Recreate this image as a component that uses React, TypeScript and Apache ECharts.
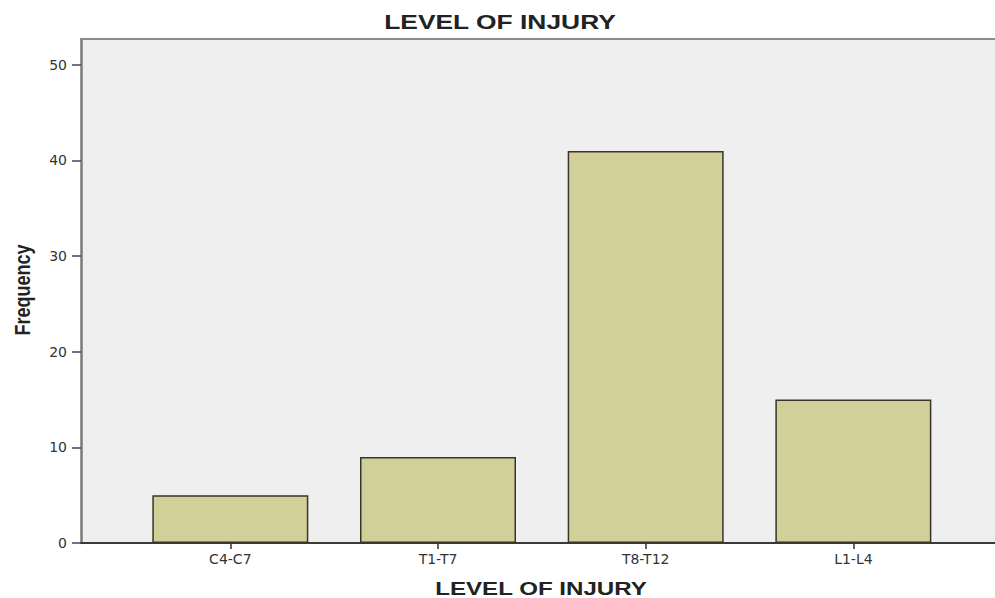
import React, { useEffect, useRef } from 'react';
import * as echarts from 'echarts';

const categories: string[] = ['C4-C7', 'T1-T7', 'T8-T12', 'L1-L4'];
const frequencies: number[] = [5, 9, 41, 15];
const yTicks: number[] = [0, 10, 20, 30, 40, 50];
const chartTitle = 'LEVEL OF INJURY';
const xTitle = 'LEVEL OF INJURY';
const yTitle = 'Frequency';

export default function App() {
  const ref = useRef<HTMLDivElement>(null);

  useEffect(() => {
    if (!ref.current) return;
    const chart = echarts.init(ref.current, null, { renderer: 'svg' });
    const catIdx = categories.map((_, i) => i);
    const xMin = -0.719;
    const xMax = 3.682;
    const option: any = {
      animation: false,
      backgroundColor: '#ffffff',
      grid: {
        left: 81,
        right: 0,
        top: 39,
        bottom: 55,
        show: true,
        backgroundColor: '#efefef',
        borderWidth: 0,
        containLabel: false,
      },
      xAxis: [
        {
          type: 'value',
          min: xMin,
          max: xMax,
          splitLine: { show: false },
          axisLine: { show: true, onZero: false, lineStyle: { color: '#3a3a3a', width: 2 } },
          axisTick: { show: true, customValues: catIdx, length: 6, lineStyle: { color: '#333', width: 1.5 } },
          axisLabel: {
            customValues: catIdx,
            formatter: (v: number) => categories[Math.round(v)] ?? '',
            margin: 9,
            fontFamily: 'DejaVu Sans',
            fontSize: 14,
            color: '#333',
          },
        },
        {
          type: 'value',
          position: 'top',
          min: xMin,
          max: xMax,
          splitLine: { show: false },
          axisLine: { show: true, onZero: false, lineStyle: { color: '#8c8c8c', width: 2 } },
          axisTick: { show: false },
          axisLabel: { show: false },
        },
      ],
      yAxis: {
        type: 'value',
        min: 0,
        max: 52.7,
        splitLine: { show: false },
        axisLine: { show: true, onZero: false, lineStyle: { color: '#7a7a7a', width: 2.5 } },
        axisTick: { show: true, customValues: yTicks, length: 9, lineStyle: { color: '#444', width: 1.5 } },
        axisLabel: {
          customValues: yTicks,
          margin: 14,
          fontFamily: 'DejaVu Sans',
          fontSize: 14,
          color: '#333',
        },
      },
      series: [
        {
          type: 'bar',
          xAxisIndex: 0,
          data: frequencies.map((v, i) => [i, v]),
          barWidth: 156,
          itemStyle: { color: '#d3cf98', borderColor: '#36362a', borderWidth: 1.5 },
        },
      ],
      graphic: [
        {
          type: 'text',
          x: 500,
          y: 22,
          scaleX: 1.32,
          style: {
            text: chartTitle,
            font: 'bold 20px "Liberation Sans", Arial, sans-serif',
            fill: '#222',
            align: 'center',
            verticalAlign: 'middle',
            textAlign: 'center',
            textVerticalAlign: 'middle',
          },
        },
        {
          type: 'text',
          x: 541,
          y: 589,
          scaleX: 1.34,
          style: {
            text: xTitle,
            font: 'bold 18px "Liberation Sans", Arial, sans-serif',
            fill: '#222',
            align: 'center',
            verticalAlign: 'middle',
            textAlign: 'center',
            textVerticalAlign: 'middle',
          },
        },
        {
          type: 'text',
          x: 22,
          y: 290,
          rotation: Math.PI / 2,
          scaleY: 1.25,
          style: {
            text: yTitle,
            font: 'bold 18px "Liberation Sans", Arial, sans-serif',
            fill: '#222',
            align: 'center',
            verticalAlign: 'middle',
            textAlign: 'center',
            textVerticalAlign: 'middle',
          },
        },
      ],
    };
    chart.setOption(option);
    return () => chart.dispose();
  }, []);

  return (
    <div
      ref={ref}
      style={{ position: 'absolute', left: 0, top: 0, width: 995, height: 598 }}
    />
  );
}
